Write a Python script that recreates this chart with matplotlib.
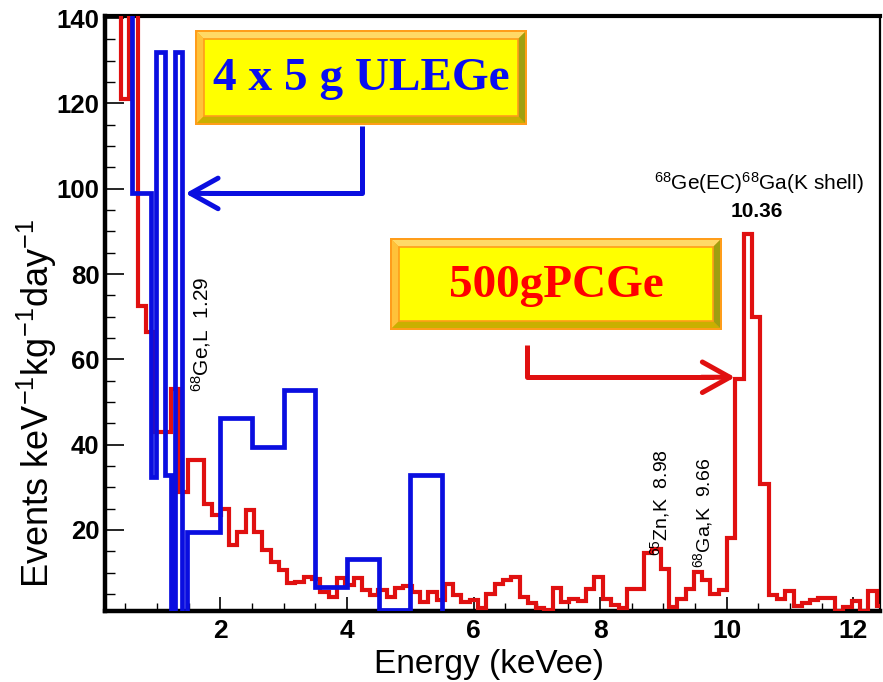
import matplotlib.pyplot as plt
from matplotlib.ticker import MultipleLocator
from matplotlib.patches import Polygon

plt.rcParams['font.family'] = ['Liberation Sans', 'DejaVu Sans']
plt.rcParams['mathtext.fontset'] = 'custom'
plt.rcParams['mathtext.rm'] = 'Liberation Sans'
plt.rcParams['mathtext.it'] = 'Liberation Sans:italic'
plt.rcParams['mathtext.bf'] = 'Liberation Sans:bold'

# 500 g PCGe spectrum (fixed bin width, keV)
pcge_start = 0.1726
pcge_width = 0.1311
pcge_counts = [150, 150, 121, 145, 72.5, 66.4, 43, 43, 53, 29,
               36.3, 36.3, 26.2, 23.4, 25, 16.4, 19.5, 24.6, 19.5, 15.2,
               12.5, 10.5, 7.5, 7.8, 9.0, 8.5, 5.5, 4.3, 8.8, 7.0,
               8.8, 6.0, 4.7, 6.0, 4.3, 6.3, 6.8, 5.5, 3.1, 5.5,
               3.5, 7.4, 4.7, 3.1, 3.5, 1.8, 5.0, 7.4, 8.2, 9.0,
               4.2, 2.8, 1.7, 1.3, 6.4, 3.0, 3.7, 3.3, 6.25, 9.0,
               3.75, 2.5, 1.7, 6.25, 6.25, 14.5, 15.6, 10.9, 1.95, 3.75,
               6.25, 10.2, 8.2, 5.0, 5.9, 18.2, 55.5, 89.5, 70, 30.8,
               4.8, 3.9, 5.7, 2.2, 2.9, 3.5, 4.1, 4.1, 1.0, 2.0,
               3.3, 1.0, 5.7, 2.2]
pcge_edges = [pcge_start + pcge_width * i for i in range(len(pcge_counts) + 1)]

# 4 x 5 g ULEGe spectrum (variable bins, keV)
ulege_edges = [0.10, 0.606, 0.911, 0.99, 1.12, 1.219, 1.290, 1.396, 1.472,
               2.0, 2.5, 3.0, 3.5, 4.0, 4.5, 5.0, 5.5]
ulege_counts = [150, 99, 32.4, 132, 33, 0, 132, 0, 19.5,
                46.2, 39.5, 52.8, 6.6, 13.3, 1.3, 32.8]

RED = '#e01010'
BLUE = '#0a0ee0'

W, H = 883, 682
fig = plt.figure(figsize=(W / 100, H / 100), dpi=100)
ax = fig.add_axes([105 / W, 1 - 611 / H, 775 / W, 595 / H])

ax.stairs(pcge_counts, pcge_edges, baseline=None, color=RED, lw=3.0, zorder=3)
ax.stairs(ulege_counts, ulege_edges, baseline=0, color=BLUE, lw=3.4, zorder=3.5)

ax.set_xlim(0.18, 12.42)
ax.set_ylim(1, 140.5)
ax.xaxis.set_major_locator(MultipleLocator(2))
ax.xaxis.set_minor_locator(MultipleLocator(0.5))
ax.yaxis.set_major_locator(MultipleLocator(20))
ax.yaxis.set_minor_locator(MultipleLocator(5))
ax.tick_params(axis='x', which='major', direction='in', length=10, width=1.2,
               labelsize=19, pad=6)
ax.tick_params(axis='x', which='minor', direction='in', length=6, width=1.0)
ax.tick_params(axis='y', which='major', direction='in', length=14, width=1.2,
               labelsize=18.5, pad=4)
ax.tick_params(axis='y', which='minor', direction='in', length=7, width=1.0)
for lab in ax.get_xticklabels() + ax.get_yticklabels():
    lab.set_fontweight('bold')
for side, lw in (('left', 3.2), ('bottom', 3.2), ('top', 3.0), ('right', 1.6)):
    ax.spines[side].set_linewidth(lw)

fig.text(489 / W, 1 - 665 / H, 'Energy (keVee)', fontsize=24,
         ha='center', va='center')
fig.text(37 / W, 1 - 403 / H, 'Events keV$^{-1}$kg$^{-1}$day$^{-1}$',
         fontsize=26, rotation=90, ha='center', va='center')

# line identifications
ax.text(1.70, 66, '$^{68}$Ge,L  1.29', rotation=90, fontsize=15,
        ha='center', va='center')
ax.text(8.94, 26.5, '$^{65}$Zn,K  8.98', rotation=90, fontsize=14,
        ha='center', va='center')
ax.text(9.63, 24.1, '$^{68}$Ga,K  9.66', rotation=90, fontsize=14,
        ha='center', va='center')
ax.text(10.51, 101.3, '$^{68}$Ge(EC)$^{68}$Ga(K shell)', fontsize=15,
        ha='center', va='center')
ax.text(10.48, 94.7, '10.36', fontsize=15, weight='bold',
        ha='center', va='center')


def px(x, y):
    return (x / W, 1 - y / H)


def bevel_box(x0, y0, x1, y1, text, color):
    b = 7
    tr = fig.transFigure
    def poly(pts, fc, ec='none', lw=0):
        fig.add_artist(Polygon([px(*p) for p in pts], closed=True, fc=fc,
                               ec=ec, lw=lw, transform=tr))
    poly([(x0, y0), (x1, y0), (x1, y1), (x0, y1)], '#ff9d1a')
    i0, j0, i1, j1 = x0 + 2, y0 + 2, x1 - 2, y1 - 2
    poly([(i0, j0), (i1, j0), (i1 - b, j0 + b), (i0 + b, j0 + b)], '#ffd966')
    poly([(i0, j0), (i0 + b, j0 + b), (i0 + b, j1 - b), (i0, j1)], '#ffc23a')
    poly([(i0, j1), (i0 + b, j1 - b), (i1 - b, j1 - b), (i1, j1)], '#c9b000')
    poly([(i1, j0), (i1, j1), (i1 - b, j1 - b), (i1 - b, j0 + b)], '#9fa010')
    poly([(i0 + b, j0 + b), (i1 - b, j0 + b), (i1 - b, j1 - b), (i0 + b, j1 - b)],
         '#ffff00', ec='#ff9d1a', lw=1.2)
    fig.text(*px((x0 + x1) / 2, (y0 + y1) / 2 + 2), text, fontsize=34,
             family='Liberation Serif', weight='bold', color=color,
             ha='center', va='center')


bevel_box(195, 30, 527, 125, '4 x 5 g ULEGe', '#0a0ef0')
bevel_box(390, 238, 722, 330, '500gPCGe', '#ff0000')

# pointers from the labels to the spectra
ax.plot([4.244, 4.244, 1.8], [114.7, 98.9, 98.9], color=BLUE, lw=3.6,
        solid_capstyle='butt', clip_on=False, zorder=4)
ax.annotate('', xy=(1.45, 98.9), xytext=(2.0, 98.9),
            arrowprops=dict(arrowstyle='->,head_length=0.9,head_width=0.5',
                            color=BLUE, lw=3.6, mutation_scale=22,
                            shrinkA=0, shrinkB=0), zorder=4)
ax.plot([6.847, 6.847, 9.8], [63.3, 55.8, 55.8], color=RED, lw=3.6,
        solid_capstyle='butt', clip_on=False, zorder=4)
ax.annotate('', xy=(10.13, 55.8), xytext=(9.6, 55.8),
            arrowprops=dict(arrowstyle='->,head_length=0.9,head_width=0.5',
                            color=RED, lw=3.6, mutation_scale=22,
                            shrinkA=0, shrinkB=0), zorder=4)

fig.savefig('out.png', dpi=100)
